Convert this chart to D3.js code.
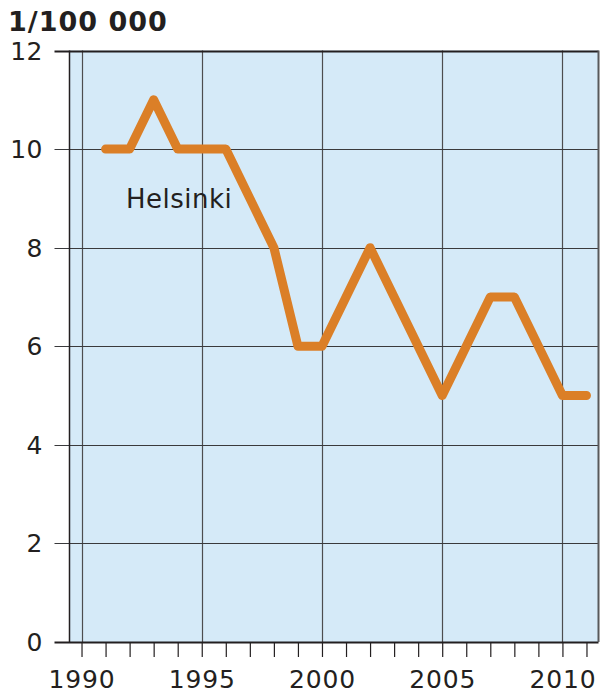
<!DOCTYPE html>
<html>
<head>
<meta charset="utf-8">
<script src="https://cdn.jsdelivr.net/npm/d3@7/dist/d3.min.js"></script>
<style>
  body { margin: 0; background: #fff; }
  svg text { font-family: "DejaVu Sans", Verdana, sans-serif; fill: #231f20; letter-spacing: 0.5px; }
</style>
</head>
<body>
<script>
// Helsinki rate per 100 000, 1991-2011
const years = [1991, 1992, 1993, 1994, 1995, 1996, 1997, 1998, 1999, 2000, 2001,
               2002, 2003, 2004, 2005, 2006, 2007, 2008, 2009, 2010, 2011];
const helsinki = [10, 10, 11, 10, 10, 10, 9, 8, 6, 6, 7,
                  8, 7, 6, 5, 6, 7, 7, 6, 5, 5];
const yTicks = [0, 2, 4, 6, 8, 10, 12];
const xLabelYears = [1990, 1995, 2000, 2005, 2010];
const unitLabel = '1/100 000';
const seriesLabel = 'Helsinki';

const width = 602, height = 695;
const margin = { top: 50.5, right: 3.5, bottom: 53, left: 69.5 };

const svg = d3.select('body')
  .append('svg')
  .attr('width', width)
  .attr('height', height);

const x = d3.scaleLinear()
  .domain([1989.5, 2011.5])
  .range([margin.left, width - margin.right]);

const y = d3.scaleLinear()
  .domain([0, 12])
  .range([height - margin.bottom, margin.top]);

// plot background
svg.append('rect')
  .attr('x', x(1989.5))
  .attr('y', y(12))
  .attr('width', x(2011.5) - x(1989.5))
  .attr('height', y(0) - y(12))
  .attr('fill', '#d5eaf8');

// vertical grid every 5 years
svg.append('g')
  .selectAll('line')
  .data(xLabelYears)
  .join('line')
  .attr('x1', d => Math.round(x(d)) + 0.5)
  .attr('x2', d => Math.round(x(d)) + 0.5)
  .attr('y1', y(12))
  .attr('y2', y(0))
  .attr('stroke', '#4d4d4f')
  .attr('stroke-width', 1.2);

// horizontal grid + y ticks
svg.append('g')
  .selectAll('line')
  .data(yTicks)
  .join('line')
  .attr('x1', margin.left - 15)
  .attr('x2', x(2011.5))
  .attr('y1', d => Math.round(y(d)) + 0.5)
  .attr('y2', d => Math.round(y(d)) + 0.5)
  .attr('stroke', d => d === 0 || d === 12 ? '#231f20' : '#3a3a3c')
  .attr('stroke-width', d => d === 0 || d === 12 ? 2 : 1.2);

// frame left / right
svg.append('line')
  .attr('x1', x(1989.5)).attr('x2', x(1989.5))
  .attr('y1', y(12)).attr('y2', y(0))
  .attr('stroke', '#231f20').attr('stroke-width', 1.5);
svg.append('line')
  .attr('x1', x(2011.5)).attr('x2', x(2011.5))
  .attr('y1', y(12)).attr('y2', y(0))
  .attr('stroke', '#58595b').attr('stroke-width', 2);

// x axis ticks (every year)
const xAxis = d3.axisBottom(x)
  .tickValues(d3.range(1990, 2012))
  .tickSize(15)
  .tickFormat(d => xLabelYears.includes(d) ? d : '');

const gx = svg.append('g')
  .attr('transform', `translate(0,${y(0)})`)
  .call(xAxis);
gx.select('.domain').remove();
gx.selectAll('.tick line')
  .attr('stroke', '#231f20')
  .attr('stroke-width', 1.2);
gx.selectAll('.tick text')
  .attr('font-size', 25)
  .attr('dy', 0)
  .attr('x', 0)
  .attr('y', 46)
  .attr('fill', '#231f20')
  .style('letter-spacing', '0.8px');

// y labels
svg.append('g')
  .selectAll('text')
  .data(yTicks)
  .join('text')
  .attr('x', 43)
  .attr('y', d => y(d) + 9)
  .attr('text-anchor', 'end')
  .attr('font-size', 25)
  .text(d => d);

// the line
const line = d3.line()
  .x((d, i) => x(years[i]))
  .y(d => y(d));

svg.append('path')
  .datum(helsinki)
  .attr('d', line)
  .attr('fill', 'none')
  .attr('stroke', '#db7f27')
  .attr('stroke-width', 9)
  .attr('stroke-linejoin', 'round')
  .attr('stroke-linecap', 'round');

// labels
svg.append('text')
  .attr('x', 126)
  .attr('y', 208)
  .attr('font-size', 26)
  .text(seriesLabel);

svg.append('text')
  .attr('x', 8)
  .attr('y', 31)
  .attr('font-size', 27)
  .attr('font-weight', 'bold')
  .style('letter-spacing', '1px')
  .text(unitLabel);
</script>
</body>
</html>
